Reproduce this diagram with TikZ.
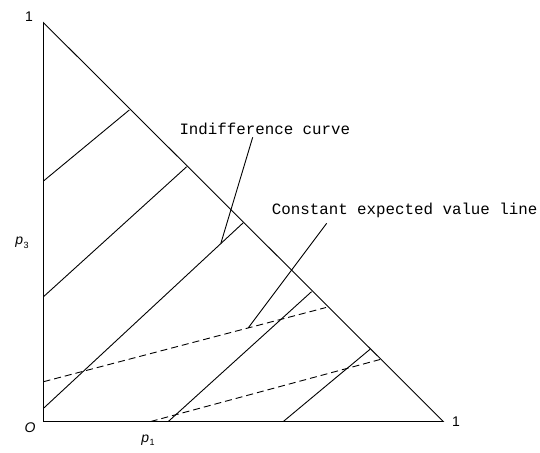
\documentclass[tikz,border=0pt]{standalone}
\usepackage{fontspec}
\setmainfont{Liberation Sans}
\newfontfamily\monofam{Liberation Mono}
\begin{document}
\begin{tikzpicture}[x=1pt,y=-1pt,
  ln/.style={line width=0.9pt,black},
  dl/.style={line width=0.9pt,black,dash pattern=on 7pt off 4pt},
  lbl/.style={inner sep=0pt,font=\monofam\fontsize{15.8}{18}\selectfont},
  ax/.style={inner sep=0pt,font=\fontsize{14}{16}\selectfont}]
\useasboundingbox (0,0) rectangle (540,452);
% vertices
\coordinate (T) at (43.5,22.7);
\coordinate (O) at (43.5,421.5);
\coordinate (R) at (443.3,421.5);
\draw[ln] (T) -- (O) -- (R) -- cycle;
% indifference curves
\coordinate (a1) at (43.5,181); \coordinate (b1) at (129.3,110);
\coordinate (a2) at (43.5,296.7); \coordinate (b2) at (186.7,166.7);
\coordinate (a3) at (43.5,408.3); \coordinate (b3) at (243.3,222.7);
\coordinate (a4) at (168.3,421.5); \coordinate (b4) at (311.5,291.7);
\coordinate (a5) at (283.3,421.5); \coordinate (b5) at (370,349.3);
\draw[ln] (a1) -- (b1);
\draw[ln] (a2) -- (b2);
\draw[ln] (a3) -- (b3);
\draw[ln] (a4) -- (b4);
\draw[ln] (a5) -- (b5);
% constant expected value lines
\coordinate (c1) at (43.5,381.7); \coordinate (d1) at (326,307.5);
\coordinate (c2) at (150.7,421.5); \coordinate (d2) at (380,359.5);
\draw[dl] (c1) -- (d1);
\draw[dl] (c2) -- (d2);
% labels
\node[lbl,anchor=west] (ic) at (179.3,129.3) {Indifference curve};
\node[lbl,anchor=west] (cev) at (271.7,210) {Constant expected value line};
\coordinate (icp) at (252.7,137.3);
\coordinate (ice) at (220.8,243.5);
\draw[ln] (icp) -- (ice);
\coordinate (cevp) at (326.7,223.3);
\coordinate (ceve) at (248.3,327.8);
\draw[ln] (cevp) -- (ceve);
% axis labels
\node[ax] (one1) at (29,17) {1};
\node[ax] (one2) at (456,422) {1};
\node[ax] (olab) at (30,428) {\itshape O};
\node[ax] (p3) at (22,243) {\itshape p\kern0.5pt\raisebox{-3.5pt}{\fontsize{9}{10}\selectfont\upshape 3}};
\node[ax] (p1) at (148,440) {\itshape p\kern0.5pt\raisebox{-3.5pt}{\fontsize{9}{10}\selectfont\upshape 1}};
\end{tikzpicture}
\end{document}
